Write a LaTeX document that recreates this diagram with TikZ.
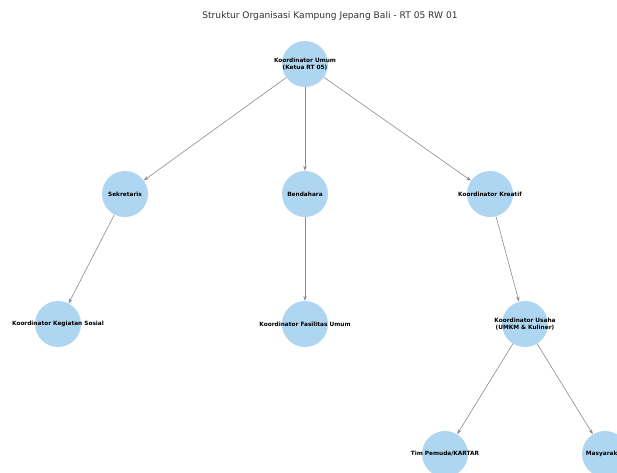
\documentclass[tikz,border=0pt]{standalone}
\usepackage{fontspec}
\setmainfont{DejaVu Sans}
\usetikzlibrary{arrows.meta}
\definecolor{nodeblue}{RGB}{174,214,241}
\definecolor{edgegray}{RGB}{140,140,140}
\definecolor{titlegray}{RGB}{50,50,50}
\begin{document}
\begin{tikzpicture}[x=1pt,y=-1pt,
  member/.style={circle,fill=nodeblue,minimum size=46pt,inner sep=0pt,
    label={[font=\fontsize{5.8}{6.6}\selectfont\bfseries,align=center,text=black]center:#1}},
  link/.style={draw=edgegray,line width=0.6pt,-{Stealth[length=5pt,width=3.5pt]}}]
\useasboundingbox (0,0) rectangle (617,472);
\clip (0,0) rectangle (617,472);
\fill[white] (0,0) rectangle (617,472);
\node[text=titlegray] (judul) at (330,16) {\fontsize{9.1}{11}\selectfont Struktur Organisasi Kampung Jepang Bali - RT 05 RW 01};
% level 1
\node[member={Koordinator Umum\\(Ketua RT 05)}] (umum) at (305,64) {};
% level 2
\node[member=Sekretaris] (sekre) at (125,194) {};
\node[member=Bendahara] (benda) at (305,194) {};
\node[member=Koordinator Kreatif] (kreatif) at (490,194) {};
% level 3
\node[member=Koordinator Kegiatan Sosial] (sosial) at (58,324) {};
\node[member=Koordinator Fasilitas Umum] (fasilitas) at (305,324) {};
\node[member={Koordinator Usaha\\(UMKM \& Kuliner)}] (usaha) at (525,324) {};
% level 4
\node[member=Tim Pemuda/KARTAR] (pemuda) at (445,454) {};
\node[member=Masyarakat] (warga) at (605,454) {};
% edges
\draw[link] (umum) -- (sekre);
\draw[link] (umum) -- (benda);
\draw[link] (umum) -- (kreatif);
\draw[link] (sekre) -- (sosial);
\draw[link] (benda) -- (fasilitas);
\draw[link] (kreatif) -- (usaha);
\draw[link] (usaha) -- (pemuda);
\draw[link] (usaha) -- (warga);
\end{tikzpicture}
\end{document}
